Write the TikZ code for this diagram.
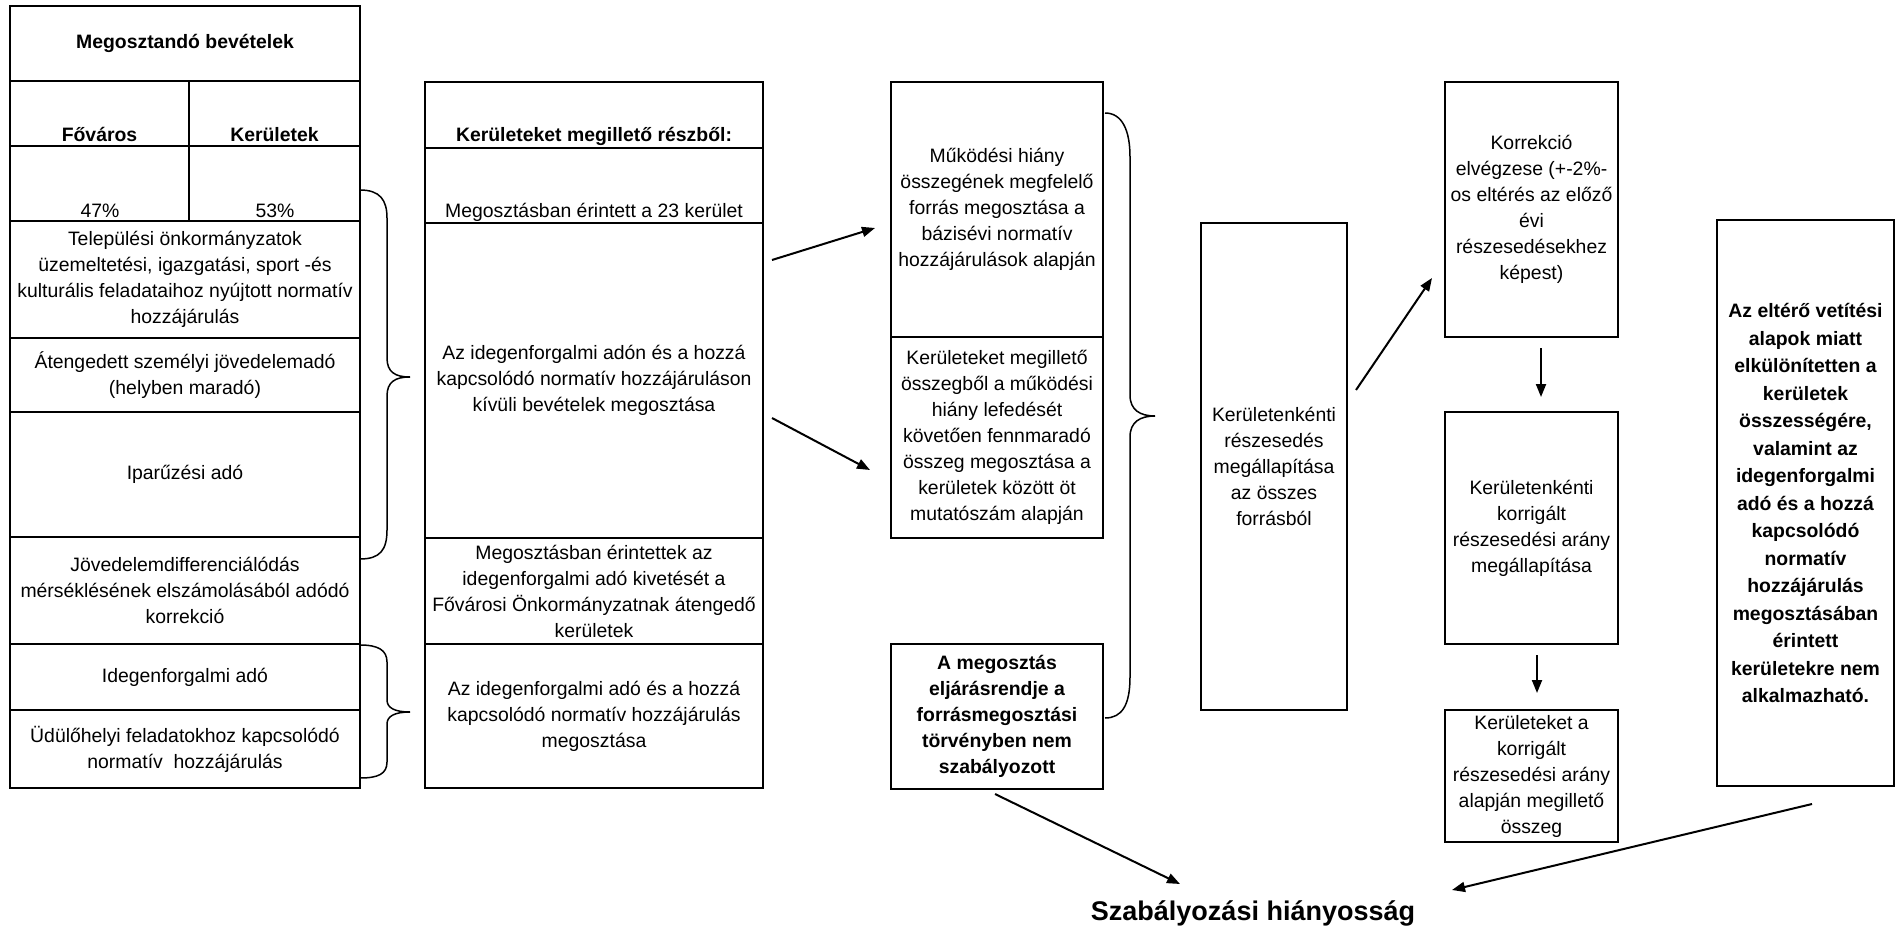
\documentclass[tikz,border=0pt]{standalone}
\usepackage{fontspec}
\setmainfont{Liberation Sans}
\usetikzlibrary{arrows.meta}
\newcommand{\txtfont}{\fontsize{9.7}{13}\selectfont}
\newcommand{\bftxt}{\fontsize{9.7}{13}\selectfont\bfseries}
\newcommand{\bfwide}{\fontsize{9.7}{13.75}\selectfont\bfseries}
\begin{document}
\begin{tikzpicture}[x=0.5pt,y=-0.5pt,
  cell/.style={draw, line width=1.4pt, inner sep=0pt, align=center, font=\txtfont},
  lbl/.style={inner sep=0pt, font=\txtfont},
  arr/.style={line width=1pt, -{Triangle[length=6.5pt,width=5pt]}},
  brace/.style={line width=0.75pt}]
\useasboundingbox (0,0) rectangle (1899,931);

% ---- left table
\node[cell, minimum width=175pt, minimum height=37.5pt, font=\bftxt] (L0) at (185,43.5) {Megosztandó bevételek};
\node[cell, minimum width=89.5pt, minimum height=32.5pt] (L1a) at (99.5,113.5) {};
\node[cell, minimum width=85.5pt, minimum height=32.5pt] (L1b) at (274.5,113.5) {};
\node[lbl, anchor=base, font=\bftxt] (tFo) at (99.5,141) {Főváros};
\node[lbl, anchor=base, font=\bftxt] (tKe) at (274.5,141) {Kerületek};
\node[cell, minimum width=89.5pt, minimum height=37.5pt] (L2a) at (99.5,183.5) {};
\node[cell, minimum width=85.5pt, minimum height=37.5pt] (L2b) at (274.5,183.5) {};
\node[lbl, anchor=base] (t47) at (100,217) {47\%};
\node[lbl, anchor=base] (t53) at (275,217) {53\%};
\node[cell, minimum width=175pt, minimum height=58.5pt] (L3) at (185,279.5) {Települési önkormányzatok\\üzemeltetési, igazgatási, sport -és\\kulturális feladataihoz nyújtott normatív\\hozzájárulás};
\node[cell, minimum width=175pt, minimum height=37pt] (L4) at (185,375) {Átengedett személyi jövedelemadó\\(helyben maradó)};
\node[cell, minimum width=175pt, minimum height=62.5pt] (L5) at (185,474.5) {Iparűzési adó};
\node[cell, minimum width=175pt, minimum height=53.5pt] (L6) at (185,590.5) {Jövedelemdifferenciálódás\\mérséklésének elszámolásából adódó\\korrekció};
\node[cell, minimum width=175pt, minimum height=33pt] (L7) at (185,677) {Idegenforgalmi adó};
\node[cell, minimum width=175pt, minimum height=39pt] (L8) at (185,749) {Üdülőhelyi feladatokhoz kapcsolódó\\normatív~~hozzájárulás};

% ---- middle table
\node[cell, minimum width=169pt, minimum height=33pt] (M0) at (594,115) {};
\node[lbl, anchor=base, font=\bftxt] (tM0) at (594,141) {Kerületeket megillető részből:};
\node[cell, minimum width=169pt, minimum height=37.5pt] (M1) at (594,185.5) {};
\node[lbl, anchor=base] (tM1) at (594,217) {Megosztásban érintett a 23 kerület};
\node[cell, minimum width=169pt, minimum height=157.5pt] (M2) at (594,380.5) {Az idegenforgalmi adón és a hozzá\\kapcsolódó normatív hozzájáruláson\\kívüli bevételek megosztása};
\node[cell, minimum width=169pt, minimum height=53pt] (M3) at (594,591) {Megosztásban érintettek az\\idegenforgalmi adó kivetését a\\Fővárosi Önkormányzatnak átengedő\\kerületek};
\node[cell, minimum width=169pt, minimum height=72pt] (M4) at (594,716) {Az idegenforgalmi adó és a hozzá\\kapcsolódó normatív hozzájárulás\\megosztása};

% ---- third column
\node[cell, minimum width=106pt, minimum height=127.5pt] (C1) at (997,209.5) {Működési hiány\\összegének megfelelő\\forrás megosztása a\\bázisévi normatív\\hozzájárulások alapján};
\node[cell, minimum width=106pt, minimum height=100.5pt] (C2) at (997,437.5) {Kerületeket megillető\\összegből a működési\\hiány lefedését\\követően fennmaradó\\összeg megosztása a\\kerületek között öt\\mutatószám alapján};
\node[cell, minimum width=106pt, minimum height=72.5pt, font=\bftxt] (C3) at (997,716.5) {A megosztás\\eljárásrendje a\\forrásmegosztási\\törvényben nem\\szabályozott};

% ---- centre box
\node[cell, minimum width=73pt, minimum height=243.5pt] (K) at (1274,466.5) {Kerületenkénti\\részesedés\\megállapítása\\az összes\\forrásból};

% ---- fifth column
\node[cell, minimum width=86.5pt, minimum height=127.5pt] (R1) at (1531.5,209.5) {Korrekció\\elvégzese (+-2\%-\\os eltérés az előző\\évi\\részesedésekhez\\képest)};
\node[cell, minimum width=86.5pt, minimum height=116pt] (R2) at (1531.5,528) {Kerületenkénti\\korrigált\\részesedési arány\\megállapítása};
\node[cell, minimum width=86.5pt, minimum height=66pt] (R3) at (1531.5,776) {Kerületeket a\\korrigált\\részesedési arány\\alapján megillető\\összeg};

% ---- right box
\node[cell, minimum width=88.5pt, minimum height=283pt, font=\bfwide] (Z) at (1805.5,503) {Az eltérő vetítési\\alapok miatt\\elkülönítetten a\\kerületek\\összességére,\\valamint az\\idegenforgalmi\\adó és a hozzá\\kapcsolódó\\normatív\\hozzájárulás\\megosztásában\\érintett\\kerületekre nem\\alkalmazható.};

% ---- title
\node[inner sep=0pt, anchor=base, font=\fontsize{13.5}{16}\selectfont\bfseries] (T) at (1253,920) {Szabályozási hiányosság};

% ---- braces
\draw[brace] (360,190) .. controls (380,190) and (387,200) .. (387,218) -- (387,358)
  .. controls (387,372) and (395,377) .. (410,377) .. controls (395,377) and (387,382) .. (387,396)
  -- (387,530) .. controls (387,550) and (380,559) .. (360,559);
\draw[brace] (360,645) .. controls (378,645) and (387,650) .. (387,662) -- (387,700)
  .. controls (387,708) and (395,712) .. (410,712) .. controls (395,712) and (387,716) .. (387,724)
  -- (387,762) .. controls (387,774) and (378,778) .. (360,778);
\draw[brace] (1105,113) .. controls (1122,113) and (1130,130) .. (1130,157) -- (1130,395)
  .. controls (1130,410) and (1140,416) .. (1155,416) .. controls (1140,416) and (1130,422) .. (1130,437)
  -- (1130,677) .. controls (1130,705) and (1122,718) .. (1105,718);

% ---- arrow end points
\coordinate (a1s) at (772,260);  \coordinate (a1e) at (875,228);
\coordinate (a2s) at (772,418);  \coordinate (a2e) at (870,470);
\coordinate (a3s) at (1356,390); \coordinate (a3e) at (1432,278);
\coordinate (a4s) at (1541,348); \coordinate (a4e) at (1541,397);
\coordinate (a5s) at (1537,655); \coordinate (a5e) at (1537,693);
\coordinate (a6s) at (995,794);  \coordinate (a6e) at (1180,884);
\coordinate (a7s) at (1812,804); \coordinate (a7e) at (1452,890);

\draw[arr] (a1s) -- (a1e);
\draw[arr] (a2s) -- (a2e);
\draw[arr] (a3s) -- (a3e);
\draw[arr] (a4s) -- (a4e);
\draw[arr] (a5s) -- (a5e);
\draw[arr] (a6s) -- (a6e);
\draw[arr] (a7s) -- (a7e);
\end{tikzpicture}
\end{document}
